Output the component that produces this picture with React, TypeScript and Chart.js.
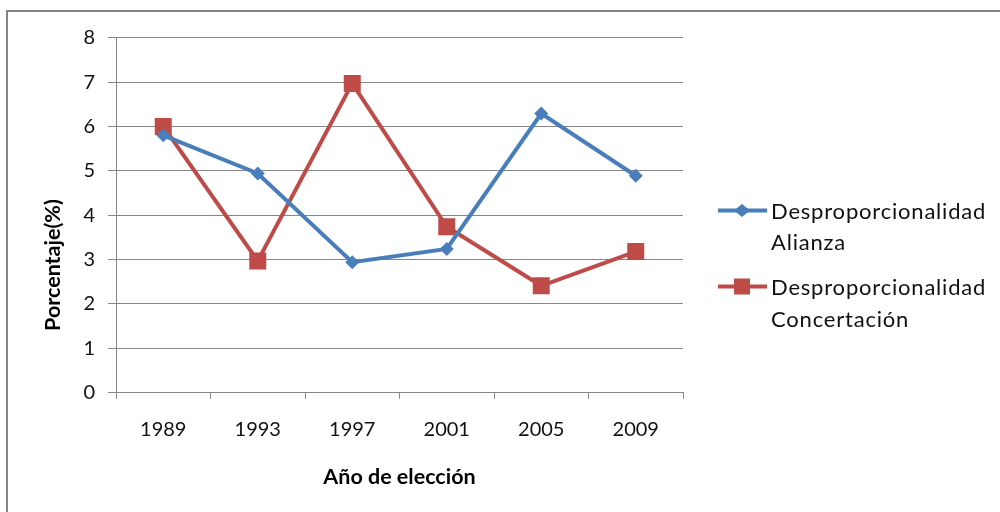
import { useEffect, useRef } from "react";
import { Chart, registerables } from "chart.js";

Chart.register(...registerables);

const categories = ["1989", "1993", "1997", "2001", "2005", "2009"];
const alianza = [5.8, 4.94, 2.94, 3.24, 6.29, 4.89];
const concertacion = [6.0, 2.97, 6.97, 3.74, 2.41, 3.18];
const legendLabels = [
  ["Desproporcionalidad", "Alianza"],
  ["Desproporcionalidad", "Concertación"],
];
const xTitle = "Año de elección";
const yTitle = "Porcentaje(%)";

const BLUE = "#4A7EBB";
const RED = "#BE4B48";
const GRID = "#868686";
const FONT = "Lato, 'Open Sans', sans-serif";

const framePlugin = {
  id: "frame",
  beforeDraw(chart: any) {
    const ctx = chart.ctx;
    ctx.save();
    ctx.fillStyle = "#ffffff";
    ctx.fillRect(0, 0, chart.width, chart.height);
    ctx.strokeStyle = GRID;
    ctx.lineWidth = 2;
    ctx.beginPath();
    ctx.moveTo(7, chart.height);
    ctx.lineTo(7, 11);
    ctx.lineTo(chart.width, 11);
    ctx.stroke();
    ctx.restore();
  },
};

const yTitlePlugin = {
  id: "yTitle",
  afterDraw(chart: any) {
    const ctx = chart.ctx;
    ctx.save();
    ctx.translate(53, 265);
    ctx.rotate(-Math.PI / 2);
    ctx.fillStyle = "#000000";
    ctx.font = `bold 21.5px ${FONT}`;
    ctx.textAlign = "center";
    ctx.textBaseline = "middle";
    ctx.fillText(yTitle, 0, 0);
    ctx.restore();
  },
};

const legendPlugin = {
  id: "customLegend",
  afterDraw(chart: any) {
    const ctx = chart.ctx;
    const rows = [210.5, 286.5];
    const baselines = [
      [219, 250],
      [295, 327],
    ];
    ctx.save();
    chart.data.datasets.forEach((ds: any, i: number) => {
      const y = rows[i];
      ctx.strokeStyle = ds.borderColor;
      ctx.lineWidth = 4;
      ctx.beginPath();
      ctx.moveTo(718, y);
      ctx.lineTo(767, y);
      ctx.stroke();
      ctx.fillStyle = ds.borderColor;
      const cx = 742;
      if (ds.pointStyle === "rectRot") {
        ctx.beginPath();
        ctx.moveTo(cx - 8, y);
        ctx.lineTo(cx, y - 6.5);
        ctx.lineTo(cx + 8, y);
        ctx.lineTo(cx, y + 6.5);
        ctx.closePath();
        ctx.fill();
      } else {
        ctx.fillRect(cx - 8, y - 8, 16, 16);
      }
      ctx.fillStyle = "#111111";
      ctx.font = `22px ${FONT}`;
      (ctx as any).letterSpacing = "0.8px";
      ctx.textBaseline = "alphabetic";
      ctx.textAlign = "left";
      legendLabels[i].forEach((line, j) => {
        ctx.fillText(line, 771, baselines[i][j]);
      });
      (ctx as any).letterSpacing = "0px";
    });
    ctx.restore();
  },
};

export default function App() {
  const ref = useRef<HTMLCanvasElement | null>(null);

  useEffect(() => {
    if (!ref.current) return;
    const chart = new Chart(ref.current, {
      type: "line",
      data: {
        labels: categories,
        datasets: [
          {
            label: legendLabels[0].join(" "),
            data: alianza,
            borderColor: BLUE,
            backgroundColor: BLUE,
            borderWidth: 4,
            pointStyle: "rectRot",
            pointRadius: 7,
            pointBorderWidth: 0,
            tension: 0,
          },
          {
            label: legendLabels[1].join(" "),
            data: concertacion,
            borderColor: RED,
            backgroundColor: RED,
            borderWidth: 4,
            pointStyle: "rect",
            pointRadius: 12,
            pointBorderWidth: 0,
            tension: 0,
          },
        ],
      },
      options: {
        responsive: false,
        animation: false,
        layout: { padding: { left: 0, top: 37.7, right: 317, bottom: 0 } },
        plugins: {
          legend: { display: false },
          tooltip: { enabled: false },
        },
        scales: {
          x: {
            type: "category",
            offset: true,
            grid: {
              offset: true,
              drawOnChartArea: false,
              drawTicks: true,
              tickLength: 6,
              color: GRID,
            },
            border: { display: true, color: GRID, width: 1 },
            ticks: {
              autoSkip: false,
              maxRotation: 0,
              padding: 19,
              color: "#111111",
              font: { family: FONT, size: 20 },
            },
            title: {
              display: true,
              text: xTitle,
              color: "#000000",
              font: { family: FONT, size: 21.5, weight: "bold" },
              padding: { top: 0, bottom: 22 },
            },
            afterFit(scale: any) {
              scale.height = 119.3;
            },
          },
          y: {
            min: 0,
            max: 8,
            ticks: {
              stepSize: 1,
              padding: 13,
              color: "#111111",
              font: { family: FONT, size: 20 },
            },
            grid: {
              color: GRID,
              tickLength: 8,
              drawTicks: true,
            },
            border: { display: true, color: GRID, width: 1 },
            title: { display: false },
            afterFit(scale: any) {
              scale.width = 116;
            },
          },
        },
      },
      plugins: [framePlugin, legendPlugin, yTitlePlugin],
    });
    return () => chart.destroy();
  }, []);

  return (
    <canvas
      ref={ref}
      width={1000}
      height={512}
      style={{ position: "absolute", left: 0, top: 0, width: 1000, height: 512 }}
    />
  );
}
